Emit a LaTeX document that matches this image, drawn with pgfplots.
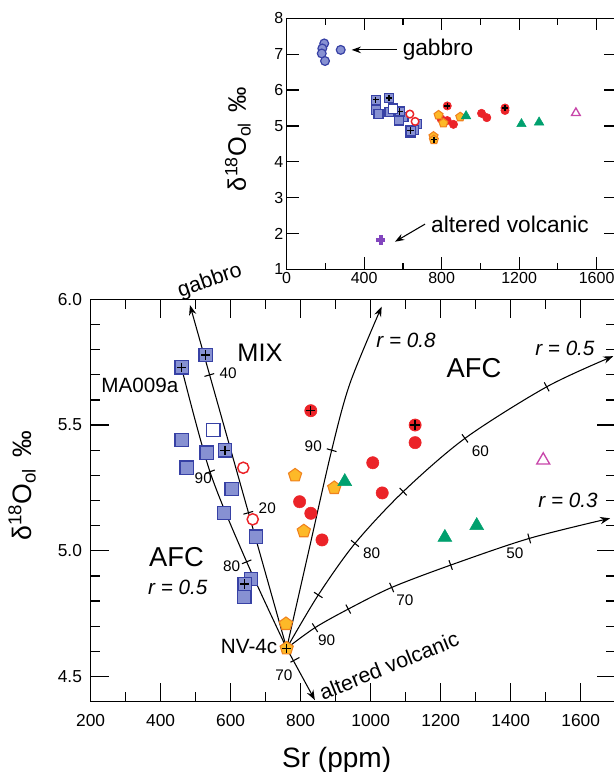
\documentclass[border=0pt]{standalone}
\usepackage{pgfplots}
\usepackage{pgfplotstable}
\pgfplotsset{compat=1.18}
\usetikzlibrary{arrows.meta,plotmarks}
\usepackage{fontspec}
\setmainfont{Liberation Sans}

\definecolor{bedge}{RGB}{55,65,165}
\definecolor{bfill}{RGB}{135,145,210}
\definecolor{rred}{RGB}{235,35,40}
\definecolor{ofill}{RGB}{253,185,40}
\definecolor{oedge}{RGB}{240,130,30}
\definecolor{ggreen}{RGB}{0,160,110}
\definecolor{mmag}{RGB}{200,70,170}
\definecolor{ppur}{RGB}{130,70,190}

\pgfplotstableread{
x y
460 5.44
474 5.33
531 5.39
603 5.245
581 5.15
672 5.056
658 4.887
639 4.817
}\tBsq
\pgfplotstableread{
x y
460 5.73
529 5.778
584 5.40
640 4.868
}\tBsqP
\pgfplotstableread{
x y
550 5.48
}\tBsqO
\pgfplotstableread{
x y
636 5.33
663 5.125
}\tRo
\pgfplotstableread{
x y
797 5.195
829 5.149
861 5.043
1006 5.35
1033 5.23
1127 5.43
}\tR
\pgfplotstableread{
x y
829 5.557
1127 5.50
}\tRP
\pgfplotstableread{
x y
784 5.30
809 5.078
896 5.25
758 4.709
}\tO
\pgfplotstableread{
x y
760 4.612
}\tOP
\pgfplotstableread{
x y
926 5.275
1212 5.053
1303 5.10
}\tG
\pgfplotstableread{
x y
1493 5.36
}\tM
\pgfplotstableread{
x y
194 7.30
184 7.16
181 7.02
198 6.81
279 7.12
}\tGab
\pgfplotstableread{
x y
485 1.82
}\tAlt

\pgfplotsset{
  bsq/.style={only marks, mark=square*, mark size=\msc*5pt, mark options={draw=bedge, fill=bfill, line width=1pt}},
  bsqo/.style={only marks, mark=square*, mark size=\msc*5pt, mark options={draw=bedge, fill=white, line width=1pt}},
  rci/.style={only marks, mark=*, mark size=\msc*4.6pt, mark options={draw=rred, fill=rred}},
  rcio/.style={only marks, mark=*, mark size=\msc*4.2pt, mark options={draw=rred, fill=white, line width=1.1pt}},
  opt/.style={only marks, mark=pentagon*, mark size=\msc*5.2pt, mark options={draw=oedge, fill=ofill, line width=0.8pt}},
  gtr/.style={only marks, mark=triangle*, mark size=\msc*6pt, mark options={draw=ggreen, fill=ggreen}},
  mtro/.style={only marks, mark=triangle*, mark size=\msc*5.6pt, mark options={draw=mmag, fill=white, line width=1pt}},
  pls/.style={only marks, mark=+, mark size=\msc*3.5pt, mark options={draw=black, line width=1pt}},
  crv/.style={line width=0.8pt, black, mark=none},
}
\newcommand\tk[3]{\addplot[only marks, mark=|, mark size=3.8pt, mark options={rotate=#3, line width=0.8pt, draw=black}] coordinates {(#1,#2)};}
\newcommand\alldata{%
  \addplot[bsq] table {\tBsq};
  \addplot[bsq] table {\tBsqP};
  \addplot[pls] table {\tBsqP};
  \addplot[bsqo] table {\tBsqO};
  \addplot[rcio] table {\tRo};
  \addplot[rci] table {\tR};
  \addplot[rci] table {\tRP};
  \addplot[pls] table {\tRP};
  \addplot[opt] table {\tO};
  \addplot[opt] table {\tOP};
  \addplot[pls] table {\tOP};
  \addplot[gtr] table {\tG};
  \addplot[mtro] table {\tM};
}

\begin{document}
\begin{tikzpicture}
\useasboundingbox (0,0) rectangle (460.5pt,579pt);
\def\msc{1}
\begin{axis}[
  at={(68pt,52.8pt)}, anchor=south west, scale only axis,
  width=393.75pt, height=301.7pt,
  xmin=200, xmax=1700, ymin=4.4, ymax=6.0,
  xtick={200,400,...,1600}, minor xtick={300,500,...,1700},
  ytick={4.5,5.0,5.5,6.0},
  minor ytick={4.4,4.6,4.7,4.8,4.9,5.1,5.2,5.3,5.4,5.6,5.7,5.8,5.9},
  tick align=inside, major tick length=14pt, minor tick length=7pt,
  tick style={line width=1pt, black},
  axis line style={line width=1.2pt},
  /pgf/number format/assume math mode=true,
  /pgf/number format/1000 sep={},
  tick label style={font=\fontsize{13}{13}\selectfont},
  x tick label style={yshift=-6pt},
  y tick label style={xshift=-3pt, /pgf/number format/fixed, /pgf/number format/fixed zerofill, /pgf/number format/precision=1},
  clip=false,
]
% mixing / AFC curves
\addplot[crv, smooth] coordinates {(459.4,5.729) (540.9,5.314) (645.7,4.956) (760,4.612)};
\addplot[crv, -{Stealth[length=7.5pt,width=5.5pt]}] coordinates {(760,4.612) (483.7,5.977)};
\addplot[crv, smooth, -{Stealth[length=7.5pt,width=5.5pt]}] coordinates {(760,4.612) (823.7,5.003) (888.6,5.40) (940.9,5.666) (1031.4,5.971)};
\addplot[crv, smooth, -{Stealth[length=7.5pt,width=5.5pt]}] coordinates {(760,4.612) (850.3,4.824) (955.1,5.029) (1093,5.235) (1269.4,5.447) (1502.9,5.652) (1693,5.774)};
\addplot[crv, smooth, -{Stealth[length=7.5pt,width=5.5pt]}] coordinates {(760,4.612) (840.9,4.694) (936,4.768) (1060,4.854) (1228.6,4.943) (1453,5.049) (1684,5.129)};
\addplot[crv, -{Stealth[length=7.5pt,width=5.5pt]}] coordinates {(760,4.612) (840.6,4.406)};
% ticks on curves
\tk{540.9}{5.314}{111}
\tk{645.7}{4.956}{112}
\tk{538.9}{5.699}{106}
\tk{650.3}{5.151}{106}
\tk{888.6}{5.40}{74}
\tk{850.3}{4.824}{57}
\tk{955.1}{5.029}{51}
\tk{1093}{5.235}{44}
\tk{1269.4}{5.447}{36.5}
\tk{1502.9}{5.652}{28.5}
\tk{840.9}{4.694}{32}
\tk{936}{4.768}{28}
\tk{1060}{4.854}{23.6}
\tk{1228.6}{4.943}{19.7}
\tk{1453}{5.049}{16.3}
\tk{783.7}{4.566}{-62}
% data
\alldata
% labels
\node[font=\fontsize{16}{16}\selectfont, rotate=19] at (540.9,6.073) {gabbro};
\node[font=\fontsize{19}{19}\selectfont] at (683.7,5.787) {MIX};
\node[font=\fontsize{15.5}{15.5}\selectfont] at (340.9,5.659) {MA009a};
\node[font=\fontsize{15.5}{15.5}\selectfont] at (652.6,4.618) {NV-4c};
\node[font=\fontsize{20.5}{20.5}\selectfont] at (445.4,4.976) {AFC};
\node[font=\fontsize{15.5}{15.5}\selectfont\itshape] at (449,4.854) {r = 0.5};
\node[font=\fontsize{20.5}{20.5}\selectfont] at (1295,5.726) {AFC};
\node[font=\fontsize{15.5}{15.5}\selectfont\itshape] at (1101,5.838) {r = 0.8};
\node[font=\fontsize{15.5}{15.5}\selectfont\itshape] at (1555,5.805) {r = 0.5};
\node[font=\fontsize{15.5}{15.5}\selectfont\itshape] at (1564,5.202) {r = 0.3};
\node[font=\fontsize{16}{16}\selectfont, rotate=22, inner sep=1pt] at (1052,4.543) {altered volcanic};
\begin{scope}[font=\fontsize{11.5}{11.5}\selectfont, inner sep=1pt]
\node at (593,5.708) {40};
\node at (521.7,5.288) {90};
\node at (704.6,5.169) {20};
\node at (602.9,4.939) {80};
\node at (752.3,4.506) {70};
\node at (874.3,4.645) {90};
\node at (1002.9,4.99) {80};
\node at (1313.7,5.394) {60};
\node at (1098,4.804) {70};
\node at (1412,4.991) {50};
\node at (836,5.416) {90};
\end{scope}
\end{axis}
\def\msc{0.68}
\begin{axis}[
  at={(215pt,377pt)}, anchor=south west, scale only axis,
  width=247pt, height=188.25pt,
  xmin=0, xmax=1700, ymin=1, ymax=8,
  xtick={0,400,...,1600}, minor xtick={200,600,1000,1400},
  ytick={1,2,...,8},
  tick align=inside, major tick length=9pt, minor tick length=5pt,
  tick style={line width=0.9pt, black},
  axis line style={line width=1.1pt},
  /pgf/number format/assume math mode=true,
  /pgf/number format/1000 sep={},
  tick label style={font=\fontsize{12}{12}\selectfont},
  x tick label style={yshift=1pt},
  y tick label style={xshift=1pt},
  clip=false,
]
\alldata
\addplot[only marks, mark=*, mark size=3.3pt, mark options={draw=bedge, fill=bfill, line width=0.9pt}] table {\tGab};
\addplot[only marks, mark=+, mark size=3.6pt, mark options={draw=ppur, line width=3pt}] table {\tAlt};
\draw[line width=0.8pt, -{Stealth[length=7pt,width=5pt]}] (567.7,7.12) -- (335.5,7.12);
\draw[line width=0.8pt, -{Stealth[length=7pt,width=5pt]}] (714,2.26) -- (559,1.77);
\node[anchor=west, font=\fontsize{17}{17}\selectfont] at (575,7.14) {gabbro};
\node[anchor=west, font=\fontsize{17}{17}\selectfont] at (722,2.24) {altered volcanic};
\end{axis}
\node[rotate=90, font=\fontsize{20}{24}\selectfont] at (16.5pt,214.5pt) {δ\textsuperscript{18}O\textsubscript{ol}\hspace{0.4em}‰};
\node[rotate=90, font=\fontsize{19}{23}\selectfont] at (178.5pt,474.75pt) {δ\textsuperscript{18}O\textsubscript{ol}\hspace{0.4em}‰};
\node[font=\fontsize{21}{25}\selectfont] at (252.5pt,9pt) {Sr (ppm)};
\end{tikzpicture}
\end{document}
